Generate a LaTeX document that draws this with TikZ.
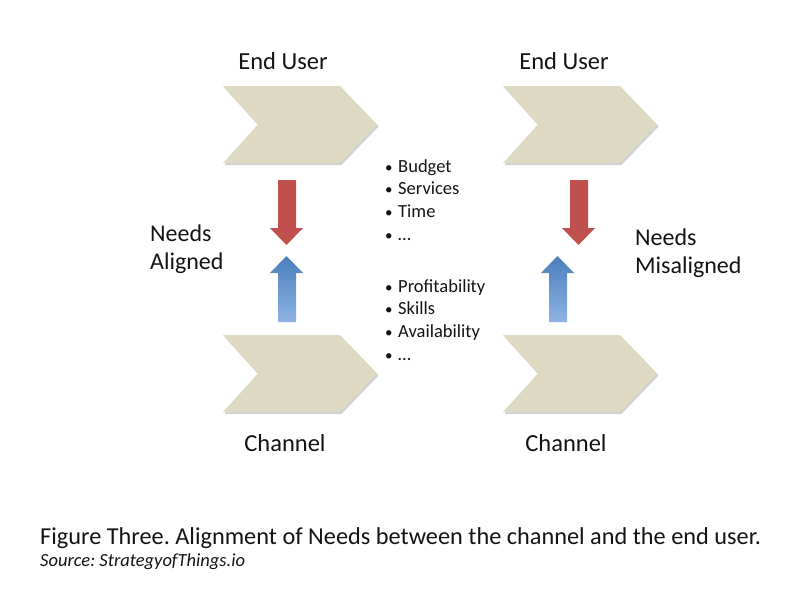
\documentclass[tikz,border=0pt]{standalone}
\usepackage{fontspec}
\setmainfont{Carlito}
\frenchspacing
\definecolor{chevfill}{RGB}{221,217,195}
\definecolor{arrred}{RGB}{192,80,77}
\definecolor{arrblueD}{RGB}{74,126,187}
\definecolor{arrblueL}{RGB}{142,180,227}
\definecolor{txt}{RGB}{20,20,20}
\tikzset{
  chevshape/.style={fill=chevfill, draw=none},
  chevshadow/.style={fill=black, opacity=0.18, draw=none},
  redarrow/.style={fill=arrred, draw=none},
  bluearrow/.style={top color=arrblueD, bottom color=arrblueL, draw=none},
  lbl/.style={font=\fontsize{24.5}{28}\selectfont, text=txt, inner sep=0pt},
  side/.style={font=\fontsize{24}{28}\selectfont, text=txt, inner sep=0pt, align=left, anchor=west},
  bul/.style={font=\fontsize{18.5}{22}\selectfont, text=txt, inner sep=0pt, anchor=base west},
}
\newcommand{\mychevron}[3]{%
  \begin{scope}[shift={(#1,#2)}]
    \fill[chevshadow] (1.5,2) -- (118.5,2) -- (155.5,40.5) -- (118.5,79) -- (1.5,79) -- (36.5,40.5) -- cycle;
    \fill[chevshape] (0,0) -- (117,0) -- (154,38.5) -- (117,77) -- (0,77) -- (35,38.5) -- cycle;
    \coordinate (#3) at (77,38.5);
  \end{scope}}
\newcommand{\mydownarrow}[3]{%
  \begin{scope}[shift={(#1,#2)}]
    \fill[redarrow] (8,0) -- (26,0) -- (26,48) -- (33,48) -- (16.5,65) -- (0,48) -- (8,48) -- cycle;
    \coordinate (#3) at (16.5,32);
  \end{scope}}
\newcommand{\myuparrow}[3]{%
  \begin{scope}[shift={(#1,#2)}]
    \shade[bluearrow] (16.5,0) -- (33,17) -- (26,17) -- (26,66) -- (8,66) -- (8,17) -- (0,17) -- cycle;
    \coordinate (#3) at (16.5,33);
  \end{scope}}
\newcommand{\bulitem}[1]{{\fontsize{15}{18}\selectfont•}\hspace{0.3em}#1}
\begin{document}
\begin{tikzpicture}[x=1pt,y=-1pt]
  \useasboundingbox[fill=white] (0,0) rectangle (804,600);
  % chevrons
  \mychevron{223}{86}{cTL}
  \mychevron{503}{86}{cTR}
  \mychevron{223}{335}{cBL}
  \mychevron{503}{335}{cBR}
  % block arrows
  \mydownarrow{270}{180}{rL}
  \myuparrow{270}{256}{bL}
  \mydownarrow{562}{180}{rR}
  \myuparrow{541}{256}{bR}
  % labels
  \node[lbl] (euL) at (283,61) {End User};
  \node[lbl] (euR) at (564,61) {End User};
  \node[lbl] (chL) at (285,443) {Channel};
  \node[lbl] (chR) at (566,443) {Channel};
  \node[side] (na) at (150,249) {Needs\\Aligned};
  \node[side] (nm) at (635,253) {Needs\\Misaligned};
  % bullet lists
  \node[bul] (b1) at (385,172) {\bulitem{Budget}};
  \node[bul] (b2) at (385,194) {\bulitem{Services}};
  \node[bul] (b3) at (385,217) {\bulitem{Time}};
  \node[bul] (b4) at (385,240) {\bulitem{…}};
  \node[bul] (p1) at (385,292) {\bulitem{Profitability}};
  \node[bul] (p2) at (385,314) {\bulitem{Skills}};
  \node[bul] (p3) at (385,337) {\bulitem{Availability}};
  \node[bul] (p4) at (385,360) {\bulitem{…}};
  % caption
  \node[font=\fontsize{24.3}{28}\selectfont, text=txt, inner sep=0pt, anchor=base west] (cap) at (40,544) {Figure Three. Alignment of Needs between the channel and the end user.};
  \node[font=\fontsize{18.5}{22}\selectfont\itshape, text=txt, inner sep=0pt, anchor=base west] (src) at (40,566) {Source: StrategyofThings.io};
\end{tikzpicture}
\end{document}
